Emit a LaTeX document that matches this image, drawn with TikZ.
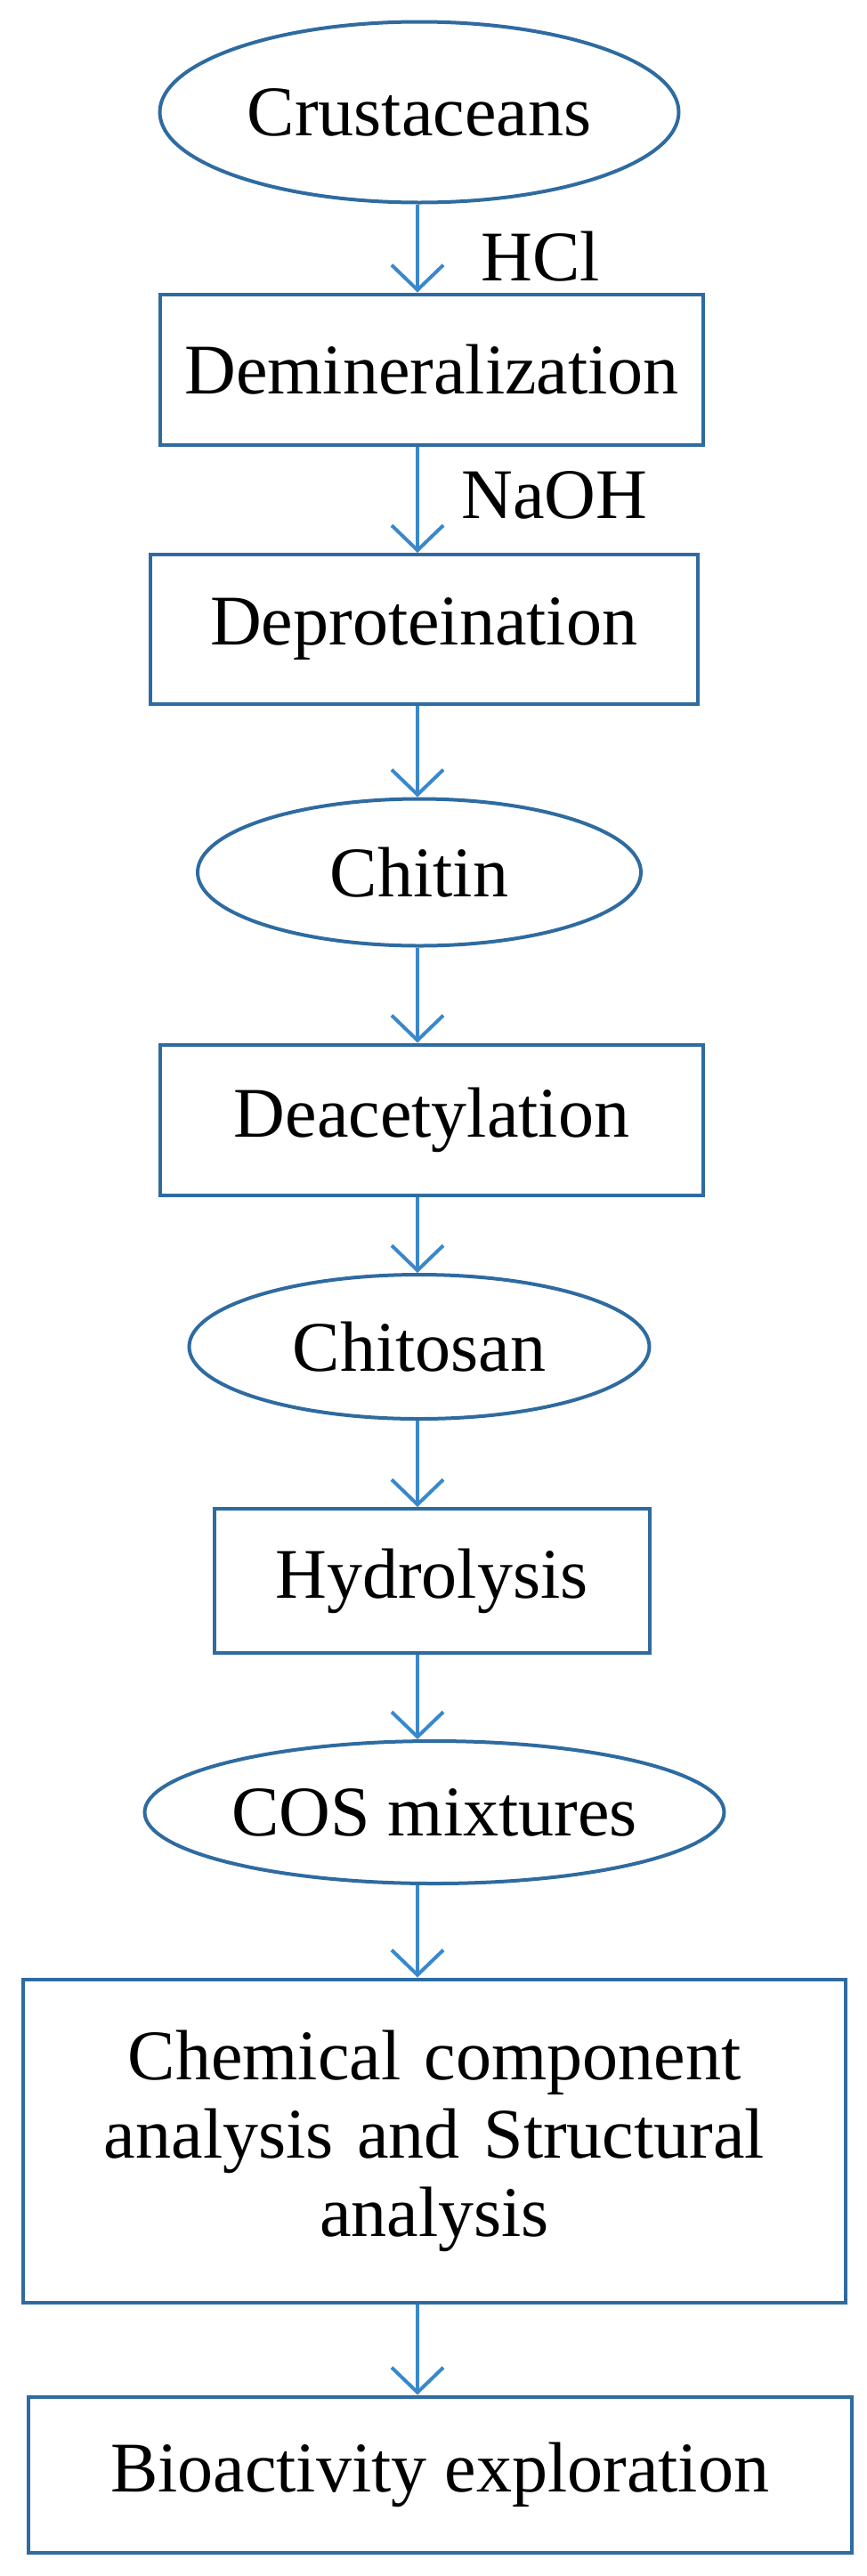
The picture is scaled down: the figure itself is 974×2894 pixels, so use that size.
\documentclass[tikz,border=0pt]{standalone}
\usepackage{fontspec}
\setmainfont{Liberation Serif}
\usetikzlibrary{shapes.geometric,arrows.meta}
\definecolor{edge}{HTML}{2E6BA0}
\definecolor{flowc}{HTML}{3A88CC}
\tikzset{
  process/.style={draw=edge,line width=4pt,rectangle,inner sep=0pt,align=center,font=\fontsize{80}{88}\selectfont},
  state/.style={draw=edge,line width=4pt,ellipse,inner sep=0pt,font=\fontsize{80}{88}\selectfont},
  flow/.style={draw=flowc,line width=4pt,-{Straight Barb[length=28pt,width=58pt,line width=4pt]}},
  reagent/.style={font=\fontsize{80}{88}\selectfont}
}
\begin{document}
\begin{tikzpicture}[x=1pt,y=-1pt]
\useasboundingbox (0,0) rectangle (974,2894);
\coordinate (axis) at (469,0);

\node[state,minimum width=583,minimum height=203] (crust) at (471,126) {Crustaceans};
\node[process,minimum width=610,minimum height=169] (demin) at (485,415) {Demineralization};
\node[process,minimum width=615,minimum height=168] (deprot) at (476,707) {Deproteination};
\node[state,minimum width=498,minimum height=165] (chitin) at (471,980) {Chitin};
\node[process,minimum width=610,minimum height=169] (deacet) at (485,1258) {Deacetylation};
\node[state,minimum width=517,minimum height=162] (chitosan) at (471,1513) {Chitosan};
\node[process,minimum width=489,minimum height=162] (hydro) at (485,1776) {Hydrolysis};
\node[state,minimum width=651,minimum height=160] (cos) at (488,2036) {COS mixtures};
\node[process,minimum width=924,minimum height=363,text width=900] (analysis) at (488,2405) {Chemical component\\analysis and Structural\\analysis};
\node[process,minimum width=925,minimum height=175] (bio) at (494,2780) {Bioactivity exploration};

\node[reagent] (hcl) at (607,288) {HCl};
\node[reagent] (naoh) at (623,556) {NaOH};

\draw[flow] (axis |- crust.south) -- (axis |- demin.north);
\draw[flow] (axis |- demin.south) -- (axis |- deprot.north);
\draw[flow] (axis |- deprot.south) -- (axis |- chitin.north);
\draw[flow] (axis |- chitin.south) -- (axis |- deacet.north);
\draw[flow] (axis |- deacet.south) -- (axis |- chitosan.north);
\draw[flow] (axis |- chitosan.south) -- (axis |- hydro.north);
\draw[flow] (axis |- hydro.south) -- (axis |- cos.north);
\draw[flow] (axis |- cos.south) -- (axis |- analysis.north);
\draw[flow] (axis |- analysis.south) -- (axis |- bio.north);
\end{tikzpicture}
\end{document}
